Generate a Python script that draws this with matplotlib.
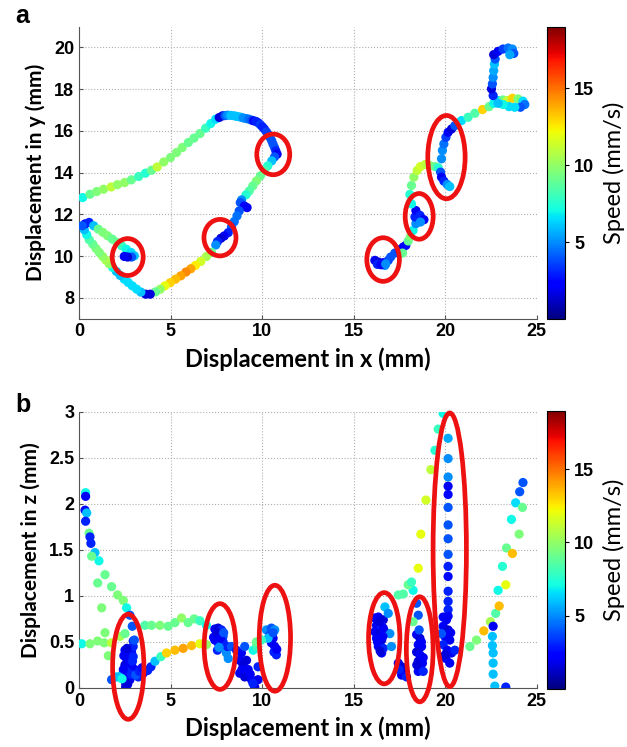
import numpy as np
import matplotlib
matplotlib.use("Agg")
import matplotlib.pyplot as plt
from matplotlib.patches import Ellipse

# ---------------------------- data: panel a (x-y path) ----------------------------
# upper arc, left side
arc_x = [0.2, 0.6, 0.97, 1.34, 1.76, 2.1, 2.49, 2.86, 3.26, 3.63, 3.96, 4.27, 4.63, 5.0,
         5.33, 5.64, 5.97, 6.28, 6.61, 6.92, 7.2, 7.47]
arc_y = [12.8, 12.96, 13.09, 13.2, 13.31, 13.42, 13.52, 13.65, 13.81, 13.97, 14.11, 14.27,
         14.51, 14.72, 14.96, 15.2, 15.44, 15.65, 15.87, 16.13, 16.35, 16.56]
arc_v = [7, 9, 9.5, 10, 11, 10, 10, 9, 8, 7.5, 9, 11, 10, 9.5, 9.5, 9.5, 9, 9, 9, 8, 7, 6.5]

# top segment and turn down to x~10.7
top_x = [7.66, 7.84, 7.97, 8.11, 8.29, 8.48, 8.63, 8.81, 8.97, 9.12, 9.27, 9.43, 9.54, 9.67,
         9.8, 9.91, 10.02, 10.13, 10.24, 10.35, 10.44, 10.53, 10.6, 10.68, 10.75, 10.82, 10.68]
top_y = [16.64, 16.72, 16.73, 16.75, 16.74, 16.72, 16.69, 16.66, 16.62, 16.59, 16.56, 16.51,
         16.48, 16.45, 16.38, 16.29, 16.19, 16.08, 15.95, 15.81, 15.68, 15.52, 15.36, 15.2,
         15.04, 14.88, 14.75]
top_v = [1.5, 1.5, 4, 5, 6, 6, 6, 6, 5, 5, 4.5, 4, 2.5, 3, 3, 3.5, 3, 3, 3.5, 3.5, 4, 4, 4, 4,
         3, 2, 4]

# down from x~10.5 to the orange run
mid_x = [10.53, 10.31, 10.13, 9.91, 9.69, 9.49, 9.3, 9.12, 8.88, 8.81, 9.03, 9.18, 8.75, 8.63,
         8.48, 8.33, 8.15, 7.93, 7.75, 7.56, 7.47]
mid_y = [14.56, 14.32, 14.08, 13.84, 13.6, 13.36, 13.12, 12.93, 12.69, 12.56, 12.4, 12.32,
         12.16, 11.92, 11.65, 11.39, 11.12, 10.96, 10.85, 10.69, 10.53]
mid_v = [6, 7.5, 8.5, 9, 9.5, 9, 8.5, 7.5, 5, 4, 2.5, 2, 4, 4.5, 4.5, 4, 3, 2, 1.5, 3, 5]

# fast run down to (3.8, 8.1)
low_x = [7.24, 6.96, 6.65, 6.36, 6.11, 5.84, 5.56, 5.27, 4.98, 4.69, 4.44, 4.18, 3.89, 3.64]
low_y = [10.17, 9.98, 9.74, 9.55, 9.39, 9.23, 9.05, 8.89, 8.72, 8.57, 8.41, 8.28, 8.17, 8.17]
low_v = [9, 10.5, 11.5, 12.5, 14, 14.5, 14, 13.5, 13, 12, 10, 9, 1.5, 1.5]

# loop on the left (lower branch, corner, upper branch into x~2.7)
loop_x = [3.38, 3.15, 2.91, 2.69, 2.47, 2.25, 2.04, 1.84, 1.65, 1.47, 1.29, 1.11, 0.93, 0.75,
          0.56, 0.42, 0.29, 0.33, 0.55, 0.18, 0.8, 1.05, 1.31, 1.56, 1.82, 2.07, 2.33, 2.58,
          2.84, 3.02, 2.87, 2.65, 2.47]
loop_y = [8.27, 8.41, 8.57, 8.73, 8.89, 9.07, 9.26, 9.45, 9.63, 9.8, 9.98, 10.17, 10.36, 10.57,
          10.78, 11.02, 11.26, 11.54, 11.61, 11.45, 11.45, 11.29, 11.13, 10.97, 10.81, 10.65,
          10.49, 10.33, 10.17, 10.01, 9.95, 9.95, 9.98]
loop_v = [6, 6.5, 6.5, 6.5, 6.5, 6, 6, 7, 10, 10.5, 10, 9.5, 9.5, 9, 8.5, 7, 6, 2, 3, 4, 6, 9,
          9.5, 9.5, 9, 9, 8, 7, 6.5, 6, 4, 1.5, 2]

# right-hand path, x 16 -> 24.4
rgt_x = [16.16, 16.35, 16.62, 16.89, 16.71, 17.02, 17.25, 17.49, 17.71, 17.85, 17.67, 17.98,
         18.11, 18.25, 18.4, 18.35, 18.4, 18.62, 18.84, 18.65, 18.16, 18.07, 18.16, 18.29,
         18.47, 18.65, 18.91, 19.16, 19.44, 19.62, 19.75, 19.8, 19.93, 20.11, 20.25, 19.8,
         19.85, 19.93, 20.04, 20.16, 20.35, 20.53, 20.89, 21.25, 21.62, 22.04, 22.4, 22.65,
         22.89, 23.16, 23.38, 23.67, 23.98, 24.25, 24.35, 24.11, 23.8, 23.49, 23.16, 22.89,
         22.62, 22.53, 22.58, 22.62, 22.65, 22.69, 22.73, 22.65, 22.89, 23.16, 23.44, 23.67,
         23.75, 23.53, 16.3, 16.5, 16.75]
rgt_y = [9.79, 9.71, 9.68, 9.79, 9.55, 9.95, 10.14, 10.3, 10.43, 10.51, 10.14, 10.72, 10.94,
         11.23, 11.55, 11.87, 12.18, 11.95, 11.74, 11.63, 12.5, 12.95, 13.38, 13.78, 14.1,
         14.29, 14.39, 14.34, 14.29, 14.23, 14.02, 13.78, 13.59, 13.43, 13.33, 14.66, 15.06,
         15.37, 15.69, 15.93, 16.09, 16.25, 16.49, 16.65, 16.84, 17.02, 17.16, 17.32, 17.45,
         17.48, 17.45, 17.56, 17.53, 17.42, 17.26, 17.13, 17.13, 17.16, 17.26, 17.32, 17.69,
         18.01, 18.25, 18.56, 18.88, 19.2, 19.44, 19.65, 19.81, 19.92, 19.97, 19.92, 19.71,
         19.65, 9.6, 9.58, 9.62]
rgt_v = [2, 1.5, 2, 3.5, 5, 4, 4, 3, 2, 2.5, 9, 9, 9.5, 7, 5, 3, 2, 3, 2, 5, 7, 7.5, 9, 10,
         11, 11.5, 11, 10, 9, 7.5, 4, 2, 3, 5, 6, 5, 5, 4.5, 3.5, 2, 1.5, 4, 6.5, 8, 8.5, 13,
         9, 7, 6.5, 9, 11, 13, 9.5, 6.5, 4.5, 4, 6.5, 6.5, 7, 6, 3, 1.5, 4, 5, 5.5, 6, 4, 1.5,
         2, 3.5, 4.5, 5, 4, 5.5, 3, 2, 5]

# circled slow regions in (x, y): centre, width, height
circ_a_cx = [2.66, 7.70, 10.61, 16.61, 18.58, 20.07]
circ_a_cy = [9.95, 10.88, 14.87, 9.83, 11.90, 14.74]
circ_a_w = [1.69, 1.75, 1.80, 1.78, 1.53, 2.04]
circ_a_h = [1.77, 1.75, 1.95, 2.09, 2.19, 3.99]

# ---------------------------- data: panel b (x-z) ----------------------------
zl_x = [0.36, 0.36, 0.33, 0.42, 0.36, 0.55, 0.6, 0.65, 0.87, 1.09, 1.42, 1.78, 2.11, 2.42,
        2.6, 2.78, 2.91, 2.96,
        0.69, 1.02, 1.24, 1.42, 1.6,
        0.15, 0.6, 1.02, 1.38, 1.78, 2.24, 2.51, 3.6, 3.96, 4.42, 4.87, 5.24, 5.6, 5.96, 6.29,
        6.6, 6.96,
        1.78, 2.05, 2.33, 2.6, 2.87, 3.24, 3.51, 3.75, 3.93, 4.15,
        4.47, 4.78, 5.24, 5.69, 6.15, 6.6, 6.96]
zl_z = [2.12, 2.08, 1.93, 1.9, 1.81, 1.68, 1.64, 1.57, 1.47, 1.38, 1.23, 1.1, 1.01, 0.95,
        0.87, 0.79, 0.67, 0.51,
        1.43, 1.14, 0.87, 0.6, 0.35,
        0.48, 0.48, 0.51, 0.49, 0.49, 0.56, 0.59, 0.68, 0.68, 0.68, 0.67, 0.71, 0.76, 0.71,
        0.75, 0.73, 0.68,
        0.09, 0.12, 0.14, 0.16, 0.18, 0.12, 0.16, 0.19, 0.23, 0.29,
        0.34, 0.38, 0.41, 0.43, 0.46, 0.48, 0.47]
zl_v = [7, 2, 2.5, 6, 3, 9, 3, 3, 6, 7, 9, 9, 9.5, 9.5, 7, 4, 4, 3,
        9, 9, 9.5, 9.5, 9.5,
        7, 9.5, 9.5, 9.5, 11, 10.5, 9, 8.5, 9, 9.5, 9, 9, 10, 9, 9, 8, 7,
        4, 6, 7, 7, 7, 3, 2.5, 3, 3, 6,
        8, 13, 13.5, 14, 13.5, 12, 10]

# slow clusters on the left half
zc_x = [2.51, 2.69, 2.87, 2.6, 2.78, 2.96, 2.51, 2.69, 2.87, 2.6, 2.51, 2.55, 2.78, 2.96, 3.02,
        2.45, 2.62, 2.74, 2.92, 3.05, 2.55, 2.7, 2.84, 2.42, 2.66, 3.1, 3.3, 3.45, 2.2, 2.35,
        7.42, 7.6, 7.78, 7.51, 7.69, 7.87, 7.42, 7.6, 7.78, 7.96, 7.56, 8.05, 8.15, 7.87,
        7.35, 7.55, 7.72, 7.9, 8.1, 7.65,
        8.33, 8.6, 8.87, 9.05, 8.78, 8.96, 8.78, 9.05, 9.24, 9.42, 9.6, 9.51, 9.69, 9.78,
        9.78, 9.69, 8.9, 9.15, 9.35, 9.5,
        10.24, 10.51, 10.69, 10.42, 10.6, 10.51, 10.69, 10.65, 10.78, 10.33, 9.96, 10.6, 10.8]
zc_z = [0.41, 0.38, 0.39, 0.32, 0.3, 0.34, 0.25, 0.23, 0.25, 0.18, 0.09, 0.01, 0.09, 0.45, 0.52,
        0.35, 0.43, 0.27, 0.29, 0.2, 0.05, 0.12, 0.15, 0.2, 0.04, 0.14, 0.18, 0.22, 0.12, 0.1,
        0.64, 0.65, 0.63, 0.59, 0.58, 0.56, 0.52, 0.49, 0.47, 0.43, 0.41, 0.38, 0.32, 0.5,
        0.55, 0.6, 0.54, 0.6, 0.45, 0.44,
        0.45, 0.41, 0.38, 0.45, 0.3, 0.25, 0.16, 0.12, 0.2, 0.09, 0.01, 0.41, 0.45, 0.23,
        0.09, 0.5, 0.2, 0.3, 0.15, 0.05,
        0.63, 0.65, 0.63, 0.58, 0.54, 0.49, 0.45, 0.39, 0.36, 0.54, 0.52, 0.6, 0.42]
zc_v = [2, 1.5, 2, 1.5, 2, 3, 1.5, 2, 2, 3, 2, 1.5, 2, 3, 4,
        2, 1.5, 2, 3, 2, 1.5, 2, 3, 2, 1.5, 4, 3, 2.5, 6, 7,
        2, 1.5, 3, 2, 1.5, 4, 2, 2.5, 4, 5, 3, 5, 5, 3,
        2, 1.5, 2, 4, 3, 5,
        4, 3, 2, 4, 2, 1.5, 2, 1.5, 2, 2, 1.5, 7, 8, 3, 2, 9, 2, 1.5, 2, 3,
        5, 4, 5, 4, 2, 2, 2, 3, 3, 6, 8, 4, 2]

# right half of panel b
zr_x = [16.16, 16.35, 16.62, 16.25, 16.53, 16.16, 16.44, 16.71, 16.25, 16.53, 16.35, 16.53,
        16.62, 16.71, 16.89, 16.98, 17.07, 16.62, 16.4, 16.3, 16.6, 16.45,
        17.44, 17.62, 17.8, 17.62, 17.89, 17.49,
        18.44, 18.62, 18.53, 18.71, 18.44, 18.62, 18.53, 18.76, 18.62, 18.53, 18.8, 18.25,
        18.44, 18.53, 18.58, 18.25, 18.7, 18.45, 18.8,
        17.44, 17.71, 17.98, 18.16,
        18.53, 18.67, 18.95, 19.22, 19.44, 19.62, 19.89,
        20.16, 20.16, 20.16, 20.16, 20.16, 20.16, 20.16, 20.16, 20.16, 20.16, 20.16, 20.16,
        20.16, 20.16, 20.16,
        19.89, 20.07, 19.89, 20.16, 19.98, 20.25, 19.89, 20.11, 20.35, 20.53, 20.04, 20.25,
        19.8, 20.0, 20.3,
        21.35, 21.71, 22.11, 22.47, 22.62, 22.76, 22.95, 22.89, 23.31, 23.13, 23.35, 23.67,
        23.62, 24.04, 23.85, 24.22, 24.07, 24.25,
        22.58, 22.58, 22.62, 22.62, 22.62, 22.71, 23.31]
zr_z = [0.76, 0.77, 0.74, 0.68, 0.67, 0.61, 0.59, 0.61, 0.54, 0.52, 0.45, 0.38, 0.43, 0.88,
        0.81, 0.59, 0.45, 0.65, 0.72, 0.5, 0.56, 0.4,
        0.27, 0.23, 0.18, 0.14, 0.12, 0.2,
        0.58, 0.54, 0.47, 0.45, 0.39, 0.36, 0.29, 0.27, 0.21, 0.18, 0.18, 1.06, 0.92, 0.79,
        0.63, 0.72, 0.5, 0.25, 0.33,
        1.01, 1.02, 1.12, 1.15,
        1.3, 1.67, 2.04, 2.37, 2.58, 2.81, 2.98,
        2.71, 2.49, 2.29, 2.19, 2.1, 1.96, 1.77, 1.62, 1.45, 1.32, 1.21, 1.05, 0.94, 0.85,
        0.78,
        0.77, 0.74, 0.67, 0.63, 0.56, 0.52, 0.47, 0.41, 0.38, 0.41, 0.32, 0.27, 0.59, 0.36,
        0.6,
        0.45, 0.52, 0.62, 0.72, 0.67, 0.81, 0.89, 1.06, 1.12, 1.32, 1.52, 1.46, 1.83, 1.67,
        2.01, 1.96, 2.13, 2.23,
        0.56, 0.46, 0.38, 0.27, 0.15, 0.02, 0.01]
zr_v = [2, 2, 1.5, 2, 3, 2, 1.5, 3, 2, 1.5, 2, 2, 3, 6, 5, 5, 5, 2, 1.5, 2, 2, 1.5,
        2, 1.5, 1.5, 2, 3, 3,
        2, 1.5, 2, 2, 1.5, 2, 1.5, 2, 2, 2, 3, 7, 4, 4, 4, 9, 2, 1.5, 2,
        8.5, 8.5, 9, 8,
        12, 12, 11.5, 11, 7.5, 8, 7,
        5.5, 5, 5, 2, 2.5, 4, 4, 4, 4, 3, 2.5, 3, 3, 3, 2.5,
        2, 2, 2, 1.5, 2, 2, 3, 2, 2, 3, 2, 2, 4, 1.5, 2,
        9, 9.5, 13.5, 10.5, 2, 8.5, 13.5, 7, 12, 7.5, 9, 13.5, 7, 9.5, 6.5, 9, 4, 4,
        6, 6, 6, 6, 6, 6, 3]

circ_b_cx = [2.69, 7.70, 10.70, 16.67, 18.61, 20.25]
circ_b_cy = [0.23, 0.45, 0.54, 0.54, 0.42, 1.50]
circ_b_w = [1.71, 1.73, 1.71, 1.71, 1.46, 1.82]
circ_b_h = [1.14, 0.93, 1.15, 0.99, 1.14, 2.97]

SPEED_MAX = 19
LABEL_FONT = "Lato"
TICK_FONT = "Liberation Sans"


def style_axes(ax, xlabel, ylabel):
    ax.set_xlabel(xlabel, fontsize=17, fontweight="bold", family=LABEL_FONT, labelpad=5)
    ax.set_ylabel(ylabel, fontsize=15, fontweight="bold", family=LABEL_FONT, labelpad=6)
    ax.grid(True, linestyle=":", color="#b0b0b0", linewidth=0.8)
    ax.set_axisbelow(True)
    for s in ["top", "right"]:
        ax.spines[s].set_visible(False)
    for s in ["left", "bottom"]:
        ax.spines[s].set_color("#555555")
    ax.tick_params(direction="in", length=3, color="#555555", labelsize=13)
    for lab in ax.get_xticklabels() + ax.get_yticklabels():
        lab.set_family(TICK_FONT)
        lab.set_fontweight("bold")


def add_rings(ax, cx, cy, w, h):
    for x0, y0, ww, hh in zip(cx, cy, w, h):
        ax.add_patch(Ellipse((x0, y0), ww, hh, fill=False, edgecolor="#ee1111",
                             linewidth=3.4, clip_on=False, zorder=5))


def add_cbar(fig, sc, rect):
    cax = fig.add_axes(rect)
    cb = fig.colorbar(sc, cax=cax, ticks=[5, 10, 15])
    cb.outline.set_linewidth(0.8)
    cax.tick_params(labelsize=13, length=3)
    for lab in cax.get_yticklabels():
        lab.set_family(TICK_FONT)
        lab.set_fontweight("bold")
    cb.set_label("Speed (mm/s)", fontsize=17, family=LABEL_FONT, labelpad=6)


fig = plt.figure(figsize=(6.27, 7.47), dpi=100)
ax_a = fig.add_axes([0.126, 0.5735, 0.730, 0.391])
ax_b = fig.add_axes([0.126, 0.079, 0.730, 0.370])

# ---- panel a ----
pa_x = arc_x + top_x + mid_x + low_x + loop_x + rgt_x
pa_y = arc_y + top_y + mid_y + low_y + loop_y + rgt_y
pa_v = arc_v + top_v + mid_v + low_v + loop_v + rgt_v
sc_a = ax_a.scatter(pa_x, pa_y, c=pa_v, cmap="jet", vmin=0, vmax=SPEED_MAX, s=44,
                    linewidths=0, zorder=3)
ax_a.set_xlim(0, 25)
ax_a.set_ylim(7, 21)
ax_a.set_xticks([0, 5, 10, 15, 20, 25])
ax_a.set_yticks([8, 10, 12, 14, 16, 18, 20])
style_axes(ax_a, "Displacement in x (mm)", "Displacement in y (mm)")
add_rings(ax_a, circ_a_cx, circ_a_cy, circ_a_w, circ_a_h)
add_cbar(fig, sc_a, [0.872, 0.573, 0.029, 0.391])

# ---- panel b ----
pb_x = zl_x + zc_x + zr_x
pb_z = zl_z + zc_z + zr_z
pb_v = zl_v + zc_v + zr_v
sc_b = ax_b.scatter(pb_x, pb_z, c=pb_v, cmap="jet", vmin=0, vmax=SPEED_MAX, s=44,
                    linewidths=0, zorder=3)
ax_b.set_xlim(0, 25)
ax_b.set_ylim(0, 3)
ax_b.set_xticks([0, 5, 10, 15, 20, 25])
ax_b.set_yticks([0, 0.5, 1, 1.5, 2, 2.5, 3])
ax_b.set_yticklabels(["0", "0.5", "1", "1.5", "2", "2.5", "3"])
style_axes(ax_b, "Displacement in x (mm)", "Displacement in z (mm)")
add_rings(ax_b, circ_b_cx, circ_b_cy, circ_b_w, circ_b_h)
add_cbar(fig, sc_b, [0.872, 0.078, 0.029, 0.372])

fig.text(0.024, 0.978, "a", fontsize=18, fontweight="bold", family=TICK_FONT, va="center")
fig.text(0.024, 0.458, "b", fontsize=18, fontweight="bold", family=TICK_FONT, va="center")

fig.savefig("out.png", dpi=100)
